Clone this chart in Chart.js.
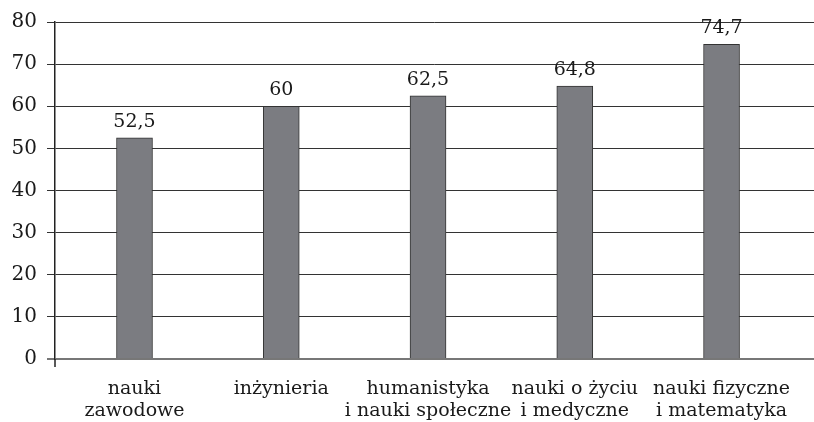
<!DOCTYPE html>
<html>
<head>
<meta charset="utf-8">
<script src="https://cdn.jsdelivr.net/npm/chart.js@4"></script>
<style>
html,body{margin:0;padding:0;background:#fff;}
#wrap{width:814px;height:422px;position:relative;}
</style>
</head>
<body>
<div id="wrap"><canvas id="c" width="814" height="422"></canvas></div>
<script>
const categories = [
  ["nauki", "zawodowe"],
  ["inżynieria"],
  ["humanistyka", "i nauki społeczne"],
  ["nauki o życiu", "i medyczne"],
  ["nauki fizyczne", "i matematyka"]
];
const values = [52.5, 60, 62.5, 64.8, 74.7];
const yTicks = [0, 10, 20, 30, 40, 50, 60, 70, 80];

const FONT = '"DejaVu Serif", Georgia, serif';
const TEXT = '#1a1a1a';

const valueLabels = {
  id: 'valueLabels',
  afterDatasetsDraw(chart) {
    const ctx = chart.ctx;
    const meta = chart.getDatasetMeta(0);
    ctx.save();
    ctx.font = '19px ' + FONT;
    ctx.fillStyle = TEXT;
    ctx.textAlign = 'center';
    ctx.textBaseline = 'alphabetic';
    meta.data.forEach((bar, i) => {
      ctx.fillText(String(values[i]).replace('.', ','), bar.x, bar.y - 11);
    });
    ctx.restore();
  },
  afterDraw(chart) {
    const a = chart.chartArea, ctx = chart.ctx;
    ctx.save();
    ctx.strokeStyle = '#222';
    ctx.lineWidth = 1.5;
    ctx.beginPath();
    ctx.moveTo(a.left, a.bottom);
    ctx.lineTo(a.left, a.bottom + 8);
    ctx.stroke();
    ctx.restore();
  }
};

new Chart(document.getElementById('c'), {
  type: 'bar',
  data: {
    datasets: [{
      data: categories.map((c, i) => ({ x: i, y: values[i] })),
      backgroundColor: '#7b7c81',
      borderColor: '#333333',
      borderWidth: 1,
      barThickness: 36
    }]
  },
  options: {
    responsive: false,
    animation: false,
    layout: { padding: { top: 19, right: 0, left: 0, bottom: 0 } },
    plugins: { legend: { display: false }, tooltip: { enabled: false } },
    scales: {
      x: {
        type: 'linear',
        offset: false,
        min: -0.5417,
        max: 4.630,
        afterBuildTicks(scale) { scale.ticks = categories.map((c, i) => ({ value: i })); },
        afterFit(scale) { scale.height = 63; },
        grid: { display: false, drawTicks: false, offset: false },
        border: { display: false },
        ticks: {
          autoSkip: false,
          maxRotation: 0,
          padding: 19,
          color: TEXT,
          font: { family: FONT, size: 19, lineHeight: 1.17 },
          callback: (v) => categories[v]
        }
      },
      y: {
        min: 0,
        max: 80,
        afterBuildTicks(scale) { scale.ticks = yTicks.map(v => ({ value: v })); },
        afterFit(scale) { scale.width = 55; },
        grid: {
          color: (c) => (c.tick && c.tick.value === 0) ? '#777777' : '#333333',
          lineWidth: (c) => (c.tick && c.tick.value === 0) ? 2 : 1,
          tickLength: 8,
          drawTicks: true
        },
        border: { display: true, color: '#222222', width: 1.5 },
        ticks: {
          padding: 10,
          color: TEXT,
          font: { family: FONT, size: 20 }
        }
      }
    }
  },
  plugins: [valueLabels]
});
</script>
</body>
</html>
